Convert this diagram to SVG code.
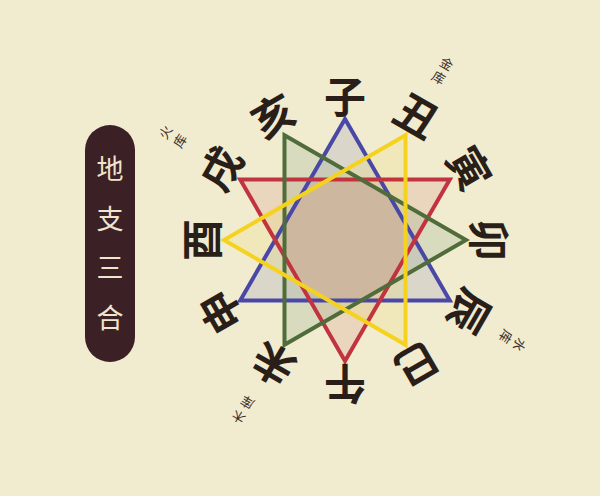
<svg xmlns="http://www.w3.org/2000/svg" width="600" height="496" viewBox="0 0 600 496">
<style>
.br{font-family:"Noto Sans CJK SC","Noto Sans CJK TC",sans-serif;font-size:42px;font-weight:700;fill:#2a1f18;text-anchor:middle;dominant-baseline:central}
.sm{font-family:"Noto Sans CJK SC","Noto Sans CJK TC",sans-serif;font-size:13px;fill:#3a3028;text-anchor:middle;dominant-baseline:central}
.tt{font-family:"Noto Sans CJK SC","Noto Sans CJK TC",sans-serif;font-size:27px;fill:#efe4cc;text-anchor:middle;dominant-baseline:central}
.fl{stroke:none;fill-opacity:0.26}
.ln{fill:none;stroke-width:4;stroke-linejoin:miter}
</style>
<defs>
<polygon id="pw" points="345,119 449.8,300.5 240.2,300.5"/>
<polygon id="pf" points="449.8,179.5 345,361 240.2,179.5"/>
<polygon id="pm" points="284.5,135.2 466,240 284.5,344.8"/>
<polygon id="pg" points="405.5,135.2 405.5,344.8 224,240"/>
</defs>
<rect width="600" height="496" fill="#f1ebd0"/>
<g id="title">
<rect x="85" y="125" width="50" height="237" rx="25" fill="#3b2026"/>
<text class="tt" x="110" y="167">地</text>
<text class="tt" x="110" y="217">支</text>
<text class="tt" x="110" y="266">三</text>
<text class="tt" x="110" y="316">合</text>
</g>
<g id="connectors">
<use href="#pw" class="fl" fill="#9a9cb8"/>
<use href="#pf" class="fl" fill="#d49a82"/>
<use href="#pm" class="fl" fill="#98ad8a"/>
<use href="#pg" class="fl" fill="#efe07c"/>
<circle cx="345" cy="240" r="61" fill="#cdb89f"/>
<use id="water" href="#pw" class="ln" stroke="#4a48a6"/>
<use id="fire" href="#pf" class="ln" stroke="#c23340"/>
<use id="wood" href="#pm" class="ln" stroke="#4f6c3a"/>
<use id="metal" href="#pg" class="ln" stroke="#f5d21e"/>
</g>
<g id="branches">
<text id="zi" class="br" x="345" y="94">子</text>
<text id="chou" class="br" x="345" y="94" transform="rotate(30 345 240)">丑</text>
<text id="yin" class="br" x="345" y="94" transform="rotate(60 345 240)">寅</text>
<text id="mao" class="br" x="345" y="94" transform="rotate(90 345 240)">卯</text>
<text id="chen" class="br" x="345" y="94" transform="rotate(120 345 240)">辰</text>
<text id="si" class="br" x="345" y="94" transform="rotate(150 345 240)">巳</text>
<text id="wu" class="br" x="345" y="94" transform="rotate(180 345 240)">午</text>
<text id="wei" class="br" x="345" y="94" transform="rotate(210 345 240)">未</text>
<text id="shen" class="br" x="345" y="94" transform="rotate(240 345 240)">申</text>
<text id="you" class="br" x="345" y="94" transform="rotate(270 345 240)">酉</text>
<text id="xu" class="br" x="345" y="94" transform="rotate(300 345 240)">戌</text>
<text id="hai" class="br" x="345" y="94" transform="rotate(330 345 240)">亥</text>
</g>
<g id="ku">
<g transform="rotate(30 345 240)"><text class="sm" x="345" y="36">金</text><text class="sm" x="345" y="52">库</text></g>
<g transform="rotate(121 345 240)"><text class="sm" x="345" y="36">水</text><text class="sm" x="345" y="52">库</text></g>
<g transform="rotate(211 345 240)"><text class="sm" x="345" y="33">木</text><text class="sm" x="345" y="50">库</text></g>
<g transform="rotate(301 345 240)"><text class="sm" x="345" y="30">火</text><text class="sm" x="345" y="47">库</text></g>
</g>
</svg>
